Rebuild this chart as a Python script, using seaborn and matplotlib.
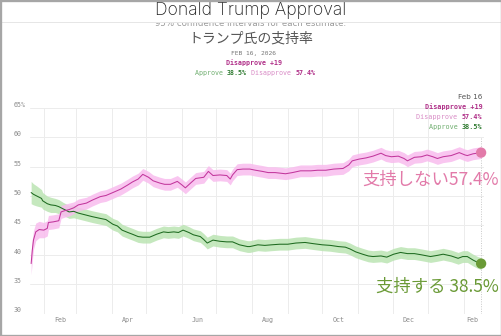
import matplotlib
matplotlib.use("Agg")
import matplotlib.pyplot as plt
import matplotlib.dates as mdates
from matplotlib.patches import Rectangle
import seaborn as sns
import pandas as pd
import numpy as np

# ---------------- data ----------------
approve_dates = [
    "2025-01-21", "2025-01-23", "2025-01-26", "2025-01-30", "2025-01-31", "2025-02-04",
    "2025-02-07", "2025-02-11", "2025-02-14", "2025-02-18", "2025-02-23", "2025-02-27",
    "2025-03-03", "2025-03-09", "2025-03-15", "2025-03-22", "2025-03-27", "2025-04-02",
    "2025-04-06", "2025-04-10", "2025-04-15", "2025-04-19", "2025-04-24", "2025-04-28",
    "2025-05-04", "2025-05-10", "2025-05-16", "2025-05-20", "2025-05-25", "2025-05-29",
    "2025-06-02", "2025-06-07", "2025-06-11", "2025-06-17", "2025-06-20", "2025-06-23",
    "2025-06-28", "2025-07-04", "2025-07-10", "2025-07-15", "2025-07-21", "2025-07-28",
    "2025-07-30", "2025-08-06", "2025-08-12", "2025-08-18", "2025-08-25", "2025-09-01",
    "2025-09-08", "2025-09-16", "2025-09-23", "2025-10-01", "2025-10-08", "2025-10-15",
    "2025-10-21", "2025-10-25", "2025-10-30", "2025-11-05", "2025-11-10", "2025-11-14",
    "2025-11-21", "2025-11-26", "2025-12-02", "2025-12-08", "2025-12-14", "2025-12-20",
    "2025-12-26", "2026-01-03", "2026-01-09", "2026-01-14", "2026-01-21", "2026-01-27",
    "2026-01-31", "2026-02-04", "2026-02-09", "2026-02-13", "2026-02-16",
]
approve_values = [
    50.6, 50.3, 50.0, 49.6, 49.2, 48.7,
    48.5, 48.4, 48.2, 47.8, 47.3, 47.4,
    47.1, 46.8, 46.5, 46.2, 46.0, 45.2,
    44.9, 44.2, 43.8, 43.5, 43.1, 43.0,
    43.0, 43.5, 43.9, 43.8, 43.9, 43.8,
    44.2, 43.8, 43.4, 43.1, 42.6, 42.0,
    42.5, 42.3, 42.2, 42.2, 41.7, 41.4,
    41.4, 41.7, 41.6, 41.7, 41.8, 41.8,
    42.0, 42.1, 41.9, 41.7, 41.6, 41.4,
    41.3, 41.0, 40.5, 40.1, 39.8, 39.7,
    39.8, 39.6, 40.1, 40.4, 40.2, 40.2,
    40.0, 39.7, 39.9, 40.1, 39.8, 39.4,
    39.7, 39.7, 39.1, 38.7, 38.5,
]
approve_ci = [
    1.9, 1.8, 1.7, 1.5, 1.4, 1.3,
    1.3, 1.2, 1.2, 1.1, 1.1, 1.1,
    1.0, 1.0, 1.0, 1.0, 1.0, 1.0,
    1.0, 1.0, 1.0, 1.0, 1.0, 1.0,
    1.0, 1.0, 1.0, 1.0, 1.0, 1.0,
    1.0, 1.0, 1.0, 1.0, 1.0, 1.0,
    1.0, 1.0, 1.0, 1.0, 1.0, 1.0,
    1.0, 1.0, 1.0, 1.0, 1.0, 1.0,
    1.0, 1.0, 1.0, 1.0, 1.0, 1.0,
    1.0, 1.0, 1.0, 1.0, 1.0, 1.0,
    1.0, 1.0, 1.0, 1.0, 1.0, 1.0,
    1.0, 1.0, 1.0, 1.0, 1.0, 1.0,
    1.0, 1.0, 1.0, 1.0, 1.0,
]

disapprove_dates = [
    "2025-01-21", "2025-01-22", "2025-01-23", "2025-01-25", "2025-01-28", "2025-02-01",
    "2025-02-04", "2025-02-05", "2025-02-09", "2025-02-14", "2025-02-16", "2025-02-19",
    "2025-02-23", "2025-02-27", "2025-03-03", "2025-03-10", "2025-03-15", "2025-03-22",
    "2025-03-27", "2025-04-02", "2025-04-09", "2025-04-15", "2025-04-19", "2025-04-24",
    "2025-04-28", "2025-05-03", "2025-05-07", "2025-05-13", "2025-05-17", "2025-05-22",
    "2025-05-28", "2025-06-01", "2025-06-04", "2025-06-09", "2025-06-13", "2025-06-20",
    "2025-06-24", "2025-06-28", "2025-07-04", "2025-07-10", "2025-07-13", "2025-07-15",
    "2025-07-19", "2025-07-24", "2025-07-30", "2025-08-04", "2025-08-10", "2025-08-15",
    "2025-08-21", "2025-08-30", "2025-09-05", "2025-09-12", "2025-09-21", "2025-09-27",
    "2025-10-04", "2025-10-11", "2025-10-19", "2025-10-24", "2025-10-27", "2025-11-02",
    "2025-11-08", "2025-11-14", "2025-11-21", "2025-11-25", "2025-11-30", "2025-12-06",
    "2025-12-11", "2025-12-14", "2025-12-20", "2025-12-26", "2025-12-31", "2026-01-05",
    "2026-01-09", "2026-01-14", "2026-01-21", "2026-01-28", "2026-02-02", "2026-02-04",
    "2026-02-09", "2026-02-16",
]
disapprove_values = [
    38.5, 40.8, 42.5, 43.9, 44.3, 44.2,
    44.5, 45.5, 45.6, 45.8, 47.3, 47.5,
    47.7, 48.0, 48.5, 48.8, 49.3, 49.9,
    50.1, 50.6, 51.2, 51.9, 52.4, 52.9,
    53.7, 53.2, 52.6, 52.2, 52.0, 52.0,
    52.5, 51.9, 51.4, 52.3, 53.0, 53.2,
    54.2, 53.5, 53.6, 53.5, 52.9, 53.6,
    54.5, 54.6, 54.6, 54.4, 54.2, 54.0,
    54.0, 53.8, 54.0, 54.3, 54.3, 54.4,
    54.4, 54.6, 54.7, 55.3, 56.0, 56.3,
    56.5, 56.8, 57.3, 56.9, 56.7, 56.8,
    56.4, 56.0, 56.6, 56.7, 57.0, 56.7,
    56.4, 56.7, 56.9, 57.4, 57.0, 56.9,
    57.2, 57.4,
]
disapprove_ci = [
    1.9, 1.8, 1.6, 1.5, 1.4, 1.3,
    1.3, 1.2, 1.2, 1.2, 1.1, 1.1,
    1.1, 1.0, 1.0, 1.0, 1.0, 1.0,
    1.0, 1.0, 1.0, 1.0, 1.0, 1.0,
    1.0, 1.0, 1.0, 1.0, 1.0, 1.0,
    1.0, 1.0, 1.0, 1.0, 1.0, 1.0,
    1.0, 1.0, 1.0, 1.0, 1.0, 1.0,
    1.0, 1.0, 1.0, 1.0, 1.0, 1.0,
    1.0, 1.0, 1.0, 1.0, 1.0, 1.0,
    1.0, 1.0, 1.0, 1.0, 1.0, 1.0,
    1.0, 1.0, 1.0, 1.0, 1.0, 1.0,
    1.0, 1.0, 1.0, 1.0, 1.0, 1.0,
    1.0, 1.0, 1.0, 1.0, 1.0, 1.0,
    1.0, 1.0,
]

ytick_values = [30, 35, 40, 45, 50, 55, 60, 65]
ytick_labels = ["30", "35", "40", "45", "50", "55", "60", "65%"]
xtick_dates = ["2025-02-15", "2025-04-15", "2025-06-15", "2025-08-15",
               "2025-10-15", "2025-12-15", "2026-02-08"]
xtick_labels = ["Feb", "Apr", "Jun", "Aug", "Oct", "Dec", "Feb"]
end_date = "2026-02-16"
approve_last = 38.5
disapprove_last = 57.4
net = 19

# ---------------- style ----------------
sns.set_theme(style="white")
plt.rcParams["font.family"] = ["DejaVu Sans", "Noto Sans CJK JP"]

PINK_LINE = "#c2369c"
PINK_BAND = "#f8bcee"
PINK_LABEL = "#e27aa9"
PINK_TEXT = "#b02f88"
PINK_LIGHT = "#d98cc6"
GREEN_LINE = "#1d6a1f"
GREEN_BAND = "#bbe4b3"
GREEN_LABEL = "#6a9a36"
GREEN_TEXT = "#2e7a30"
GREEN_LIGHT = "#6fae6f"
MONO = "DejaVu Sans Mono"

W, H = 502, 336
fig = plt.figure(figsize=(W / 100, H / 100), dpi=100)
fig.patch.set_facecolor("white")


def fx(px):
    return px / W


def fy(py):
    return 1 - py / H


ax_left, ax_right, ax_top, ax_bottom = 30, 484, 108, 313.5
ax = fig.add_axes([fx(ax_left), fy(ax_bottom), (ax_right - ax_left) / W,
                   (ax_bottom - ax_top) / H])
ax.set_facecolor("none")

df_a = pd.DataFrame({"date": pd.to_datetime(approve_dates),
                     "value": approve_values, "ci": approve_ci})
df_d = pd.DataFrame({"date": pd.to_datetime(disapprove_dates),
                     "value": disapprove_values, "ci": disapprove_ci})

for df, band in ((df_a, GREEN_BAND), (df_d, PINK_BAND)):
    ax.fill_between(df["date"], df["value"] - df["ci"], df["value"] + df["ci"],
                    color=band, alpha=0.85, lw=0, zorder=2)

sns.lineplot(data=df_a, x="date", y="value", color=GREEN_LINE, lw=0.75, ax=ax,
             zorder=3, legend=False)
sns.lineplot(data=df_d, x="date", y="value", color=PINK_LINE, lw=0.75, ax=ax,
             zorder=3, legend=False)

end_dt = pd.to_datetime(end_date)
ends = pd.DataFrame({"date": [end_dt, end_dt],
                     "value": [disapprove_last, approve_last],
                     "who": ["d", "a"]})
sns.scatterplot(data=ends, x="date", y="value", hue="who",
                palette={"d": PINK_LABEL, "a": GREEN_LABEL}, s=55,
                edgecolor="none", ax=ax, zorder=5, legend=False, clip_on=False)

ax.axvline(end_dt, ymin=0, ymax=0.86, color="#c8c8c8", ls=(0, (1, 1.5)), lw=0.7,
           zorder=1)

ax.set_xlim(pd.Timestamp("2025-01-20"), pd.Timestamp("2026-02-18 12:00"))
ax.set_ylim(30, 65)
for s in ax.spines.values():
    s.set_visible(False)

ax.set_yticks(ytick_values)
ax.set_yticklabels(ytick_labels)
ax.tick_params(axis="y", length=0, pad=12, labelsize=4.8, labelcolor="#8a8a8a")
for lab in ax.get_yticklabels():
    lab.set_horizontalalignment("left")
    lab.set_verticalalignment("bottom")
    lab.set_fontfamily(MONO)

ax.set_xticks(pd.to_datetime(xtick_dates))
ax.set_xticklabels(xtick_labels)
ax.xaxis.set_minor_locator(mdates.MonthLocator())
ax.tick_params(axis="x", which="both", length=0, pad=2.5, labelsize=4.8,
               labelcolor="#8a8a8a")
for lab in ax.get_xticklabels():
    lab.set_fontfamily(MONO)

ax.grid(True, axis="y", which="major", color="#ececec", lw=0.7)
ax.grid(True, axis="x", which="minor", color="#ececec", lw=0.7)
ax.grid(False, axis="x", which="major")
ax.set_axisbelow(True)
ax.set_xlabel("")
ax.set_ylabel("")

# big end labels
ax.annotate(f"支持しない{disapprove_last}%", xy=(end_dt, disapprove_last),
            xytext=(12.5, -19.5), textcoords="offset points", ha="right",
            va="center", fontsize=12.5, color=PINK_LABEL,
            family=["Noto Sans CJK JP"], annotation_clip=False, zorder=6)
ax.annotate(f"支持する {approve_last}%", xy=(end_dt, approve_last),
            xytext=(12.5, -16.5), textcoords="offset points", ha="right",
            va="center", fontsize=12.5, color=GREEN_LABEL,
            family=["Noto Sans CJK JP"], annotation_clip=False, zorder=6)


# ---------------- header texts ----------------
def mono_line(x_px, y_px, parts, fs, align):
    cw = 0.602 * fs * 100 / 72
    n = sum(len(p[0]) for p in parts)
    if align == "center":
        start = x_px - n * cw / 2
    elif align == "right":
        start = x_px - n * cw
    else:
        start = x_px
    for txt, col, wt in parts:
        fig.text(fx(start), fy(y_px), txt, ha="left", va="center", fontsize=fs,
                 color=col, fontweight=wt, family=MONO, zorder=4)
        start += len(txt) * cw


# subtitle partially hidden behind the title bar
fig.text(0.5, fy(23.5), "95% confidence intervals for each estimate.",
         ha="center", va="center", fontsize=6.2, color="#9a9a9a", zorder=1)
fig.add_artist(Rectangle((0, fy(21.5)), 1, 21.5 / H, transform=fig.transFigure,
                         facecolor="white", edgecolor="none", zorder=5))
fig.add_artist(Rectangle((0, fy(22.6)), 1, 1.1 / H, transform=fig.transFigure,
                         facecolor="#e6e6e6", edgecolor="none", zorder=5))
fig.text(0.5, fy(10.5), "Donald Trump Approval", ha="center", va="center",
         fontsize=12.6, color="#222222", family=["Inter", "DejaVu Sans"],
         fontweight="light", zorder=6)

fig.text(fx(251), fy(39), "トランプ氏の支持率", ha="center", va="center",
         fontsize=10, color="#555555", family=["Noto Sans CJK JP"], zorder=4)
mono_line(254, 54, [("FEB 16, 2026", "#777777", "normal")], 4.5, "center")
mono_line(254, 63, [(f"Disapprove +{net}", PINK_TEXT, "bold")], 4.8, "center")
mono_line(255, 73, [("Approve ", GREEN_LIGHT, "normal"),
                    (f"{approve_last}%", GREEN_TEXT, "bold"),
                    (" Disapprove ", PINK_LIGHT, "normal"),
                    (f"{disapprove_last}%", PINK_TEXT, "bold")], 4.8, "center")

# top-right annotation
fig.text(fx(482), fy(97), "Feb 16", ha="right", va="center", fontsize=5.2,
         color="#555555", zorder=4)
mono_line(482, 107, [(f"Disapprove +{net}", PINK_TEXT, "bold")], 4.9, "right")
mono_line(482, 117, [("Disapprove ", PINK_LIGHT, "normal"),
                     (f"{disapprove_last}%", PINK_TEXT, "bold")], 4.9, "right")
mono_line(482, 127, [("Approve ", GREEN_LIGHT, "normal"),
                     (f"{approve_last}%", GREEN_TEXT, "bold")], 4.9, "right")

# border
fig.add_artist(Rectangle((0, 0), 1, 1, transform=fig.transFigure, fill=False,
                         edgecolor="#a6a6a6", lw=2.4, zorder=10))

fig.savefig("out.png", dpi=100, facecolor="white")
